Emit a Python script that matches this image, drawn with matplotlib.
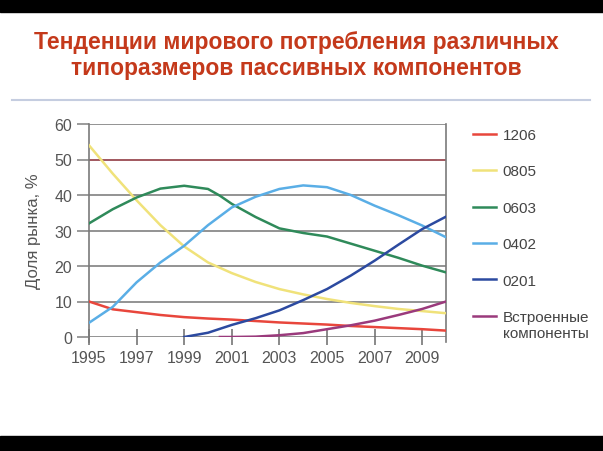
import matplotlib
matplotlib.use("Agg")
import matplotlib.pyplot as plt
from matplotlib.patches import Rectangle
from matplotlib.lines import Line2D

# --- данные ---
years = [1995, 1996, 1997, 1998, 1999, 2000, 2001, 2002, 2003, 2004, 2005, 2006, 2007, 2008, 2009, 2010]
s1206 = [10, 7.8, 7.0, 6.2, 5.6, 5.2, 4.9, 4.5, 4.1, 3.8, 3.5, 3.1, 2.8, 2.5, 2.2, 1.8]
s0805 = [54, 46, 38.5, 31.5, 25.5, 21, 18, 15.5, 13.5, 12, 10.7, 9.6, 8.7, 7.9, 7.3, 6.7]
s0402 = [4, 8.5, 15.4, 21, 25.7, 31.5, 36.5, 39.5, 41.7, 42.7, 42.2, 40, 37, 34.3, 31.4, 28.1]

years_0603 = [1995, 1996, 1997, 1998, 1999, 2000, 2000.5, 2001, 2002, 2003, 2004, 2005, 2006, 2007, 2008, 2009, 2010]
s0603 = [32, 36, 39.3, 41.8, 42.6, 41.7, 39.8, 37.5, 33.8, 30.6, 29.3, 28.3, 26.3, 24.3, 22.3, 20.1, 18.2]

years_0201 = [1999, 2000, 2001, 2002, 2003, 2004, 2005, 2006, 2007, 2008, 2009, 2010]
s0201 = [0, 1.2, 3.4, 5.3, 7.5, 10.4, 13.5, 17.3, 21.5, 26, 30.4, 33.9]

years_emb = [2000.5, 2001, 2002, 2003, 2004, 2005, 2006, 2007, 2008, 2009, 2010]
s_emb = [0, 0, 0.1, 0.5, 1.1, 2.2, 3.3, 4.6, 6.2, 7.9, 10]

labels = ["1206", "0805", "0603", "0402", "0201", "Встроенные\nкомпоненты"]
colors = ["#e8463c", "#f0e27a", "#2f8a5a", "#5aaee6", "#2c4aa0", "#9a3a7c"]

xticks = [1995, 1997, 1999, 2001, 2003, 2005, 2007, 2009]
yticks = [0, 10, 20, 30, 40, 50, 60]

plt.rcParams['font.family'] = ['Liberation Sans', 'DejaVu Sans']

fig = plt.figure(figsize=(6.03, 4.52), dpi=100)
fig.patch.set_facecolor('white')

# черные полосы сверху и снизу
fig.patches.append(Rectangle((0, 1 - 13 / 452), 1, 13 / 452, transform=fig.transFigure, color='black', zorder=0))
fig.patches.append(Rectangle((0, 0), 1, 15 / 452, transform=fig.transFigure, color='black', zorder=0))
# разделительная линия
fig.lines.append(Line2D([12 / 603, 590 / 603], [1 - 101 / 452] * 2, transform=fig.transFigure, color='#c5cde0', lw=1.5))

fig.text(296 / 603, 1 - 42 / 452, "Тенденции мирового потребления различных", ha='center', va='center',
         fontsize=16.5, weight='bold', color='#c4391b')
fig.text(296 / 603, 1 - 68 / 452, "типоразмеров пассивных компонентов", ha='center', va='center',
         fontsize=16.5, weight='bold', color='#c4391b')

ax = fig.add_axes([89 / 603, 1 - 338 / 452, (446 - 89) / 603, (338 - 125) / 452])
ax.set_facecolor('white')
ax.set_xlim(1995, 2010)
ax.set_ylim(0, 60)

for y in yticks:
    gc = '#9a4a52' if y == 50 else '#8a8a8a'
    ax.axhline(y, color=gc, lw=1.3, zorder=1)

ax.plot(years, s1206, color=colors[0], lw=1.8, label=labels[0], zorder=3)
ax.plot(years, s0805, color=colors[1], lw=1.8, label=labels[1], zorder=3)
ax.plot(years_0603, s0603, color=colors[2], lw=1.8, label=labels[2], zorder=3)
ax.plot(years, s0402, color=colors[3], lw=1.8, label=labels[3], zorder=3)
ax.plot(years_0201, s0201, color=colors[4], lw=1.8, label=labels[4], zorder=3)
ax.plot(years_emb, s_emb, color=colors[5], lw=1.8, label=labels[5], zorder=3)

for side in ['top', 'bottom']:
    ax.spines[side].set_visible(False)
for side in ['left', 'right']:
    ax.spines[side].set_color('#7a7a7a')
    ax.spines[side].set_linewidth(1.2)
    ax.spines[side].set_bounds(-1.5, 60)

ax.set_xticks(xticks)
ax.set_yticks(yticks)
ax.tick_params(axis='x', direction='inout', length=11, width=1.1, color='#6a6a6a',
               labelsize=11.5, labelcolor='#555555', pad=4)
ax.tick_params(axis='y', direction='out', length=9, width=1.2, color='#8a8a8a',
               labelsize=11.5, labelcolor='#555555', pad=3)
ax.set_ylabel("Доля рынка, %", fontsize=12, color='#555555', labelpad=10)

leg = ax.legend(loc='upper left', bbox_to_anchor=(1.058, 1.01), frameon=False, fontsize=11,
                handlelength=1.55, handletextpad=0.4, labelspacing=1.47, borderaxespad=0)
for t in leg.get_texts():
    t.set_color('#444444')
# маркер последнего пункта — на уровне первой строки подписи
last = leg.legend_handles[-1]
last.set_ydata([v + 7 for v in last.get_ydata()])

fig.savefig("out.png", dpi=100)
